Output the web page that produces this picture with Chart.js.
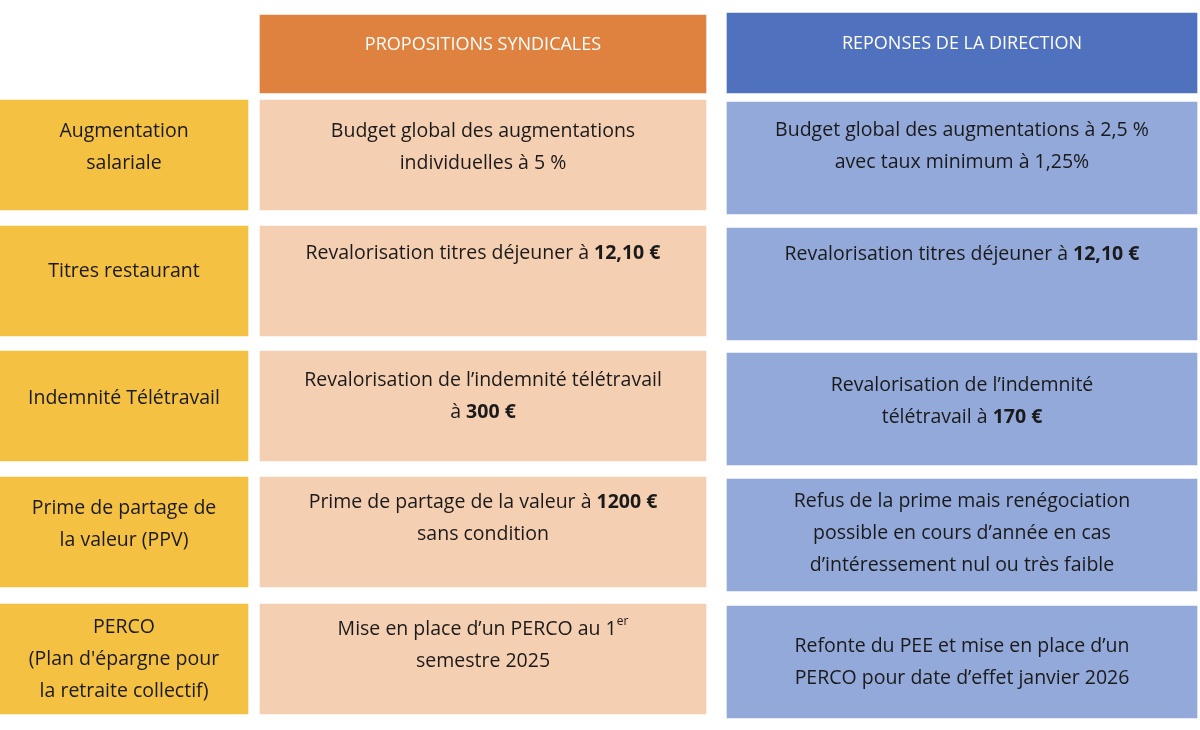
<!DOCTYPE html>
<html>
<head>
<meta charset="utf-8">
<script src="https://cdn.jsdelivr.net/npm/chart.js@4"></script>
<style>
  html, body { margin: 0; padding: 0; background: #fff; }
  #wrap { width: 1200px; height: 730px; }
</style>
</head>
<body>
<div id="wrap"><canvas id="grid"></canvas></div>
<script>
// table content
const headers = ["PROPOSITIONS SYNDICALES", "REPONSES DE LA DIRECTION"];
const topics = [
  ["Augmentation", "salariale"],
  ["Titres restaurant"],
  ["Indemnité Télétravail"],
  ["Prime de partage de", "la valeur (PPV)"],
  ["PERCO", "(Plan d'épargne pour", "la retraite collectif)"]
];
const proposals = [
  ["Budget global des augmentations", "individuelles à 5 %"],
  ["Revalorisation titres déjeuner à **12,10 €**"],
  ["Revalorisation de l’indemnité télétravail", "à **300 €**"],
  ["Prime de partage de la valeur à **1200 €**", "sans condition"],
  ["Mise en place d’un PERCO au 1^er^", "semestre 2025"]
];
const answers = [
  ["Budget global des augmentations à 2,5 %", "avec taux minimum à 1,25%"],
  ["Revalorisation titres déjeuner à **12,10 €**"],
  ["Revalorisation de l’indemnité", "télétravail à **170 €**"],
  ["Refus de la prime mais renégociation", "possible en cours d’année en cas", "d’intéressement nul ou très faible"],
  ["Refonte du PEE et mise en place d’un", "PERCO pour date d’effet janvier 2026"]
];

// layout (pixels on the 1200x730 page)
const rowMid = [155, 281, 406, 532, 659];
const textShift = [[-8, -8, -12], [-10, -28, -30], [-8, -10, -8], [-8, -14, -2], [0, -14, 0]];
const colSpan = [[0, 248], [260, 706], [727, 1197]];
const headerMid = [54, 53];

const font = "'Open Sans', 'Liberation Sans', sans-serif";

function cellData(col, mids) {
  return mids.map(m => ({ y: m, x: colSpan[col] }));
}

const datasets = [
  { data: cellData(0, rowMid), backgroundColor: "#F5C142", barThickness: 110, texts: topics, col: 0, color: "#1a1a1a" },
  { data: cellData(1, rowMid), backgroundColor: "#F5CFB2", barThickness: 110, texts: proposals, col: 1, color: "#1a1a1a" },
  { data: cellData(2, rowMid.map(m => m + 3)), backgroundColor: "#93A9DA", barThickness: 112, texts: answers, col: 2, color: "#1a1a1a" },
  { data: [{ y: headerMid[0], x: colSpan[1] }], backgroundColor: "#E0823F", barThickness: 78, texts: [[headers[0]]], header: true, color: "#ffffff" },
  { data: [{ y: headerMid[1], x: colSpan[2] }], backgroundColor: "#4F71BE", barThickness: 80, texts: [[headers[1]]], header: true, color: "#ffffff" }
];

function parseLine(line) {
  const segs = [];
  line.split(/(\*\*[^*]+\*\*|\^[^^]+\^)/).forEach(p => {
    if (!p) return;
    if (p.startsWith("**")) segs.push({ t: p.slice(2, -2), bold: true });
    else if (p.startsWith("^")) segs.push({ t: p.slice(1, -1), sup: true });
    else segs.push({ t: p });
  });
  return segs;
}

const cellText = {
  id: "cellText",
  afterDatasetsDraw(chart) {
    const ctx = chart.ctx;
    chart.data.datasets.forEach((ds, di) => {
      const meta = chart.getDatasetMeta(di);
      meta.data.forEach((bar, i) => {
        const lines = ds.texts[i];
        const size = ds.header ? 18 : 19.5;
        const lh = ds.header ? 22 : 32;
        const shift = ds.header ? -9 : textShift[i][ds.col];
        const cx = (bar.x + bar.base) / 2;
        let y = bar.y + shift - (lines.length - 1) * lh / 2;
        ctx.save();
        ctx.fillStyle = ds.color;
        ctx.textBaseline = "middle";
        lines.forEach(line => {
          const segs = parseLine(line);
          const fontOf = s => (s.bold ? "bold " : "") + (s.sup ? 12 : size) + "px " + font;
          let w = 0;
          segs.forEach(s => { ctx.font = fontOf(s); w += ctx.measureText(s.t).width; });
          let x = cx - w / 2;
          segs.forEach(s => {
            ctx.font = fontOf(s);
            ctx.textAlign = "left";
            ctx.fillText(s.t, x, s.sup ? y - 7 : y);
            x += ctx.measureText(s.t).width;
          });
          y += lh;
        });
        ctx.restore();
      });
    });
  }
};

new Chart(document.getElementById("grid"), {
  type: "bar",
  data: { datasets: datasets.map(d => Object.assign({ grouped: false, borderWidth: 0 }, d)) },
  options: {
    indexAxis: "y",
    responsive: true,
    maintainAspectRatio: false,
    animation: false,
    layout: { padding: 0 },
    plugins: { legend: { display: false }, tooltip: { enabled: false } },
    scales: {
      x: { type: "linear", min: 0, max: 1200, offset: false, display: false },
      y: { type: "linear", min: 0, max: 730, reverse: true, offset: false, display: false }
    }
  },
  plugins: [cellText]
});
</script>
</body>
</html>
